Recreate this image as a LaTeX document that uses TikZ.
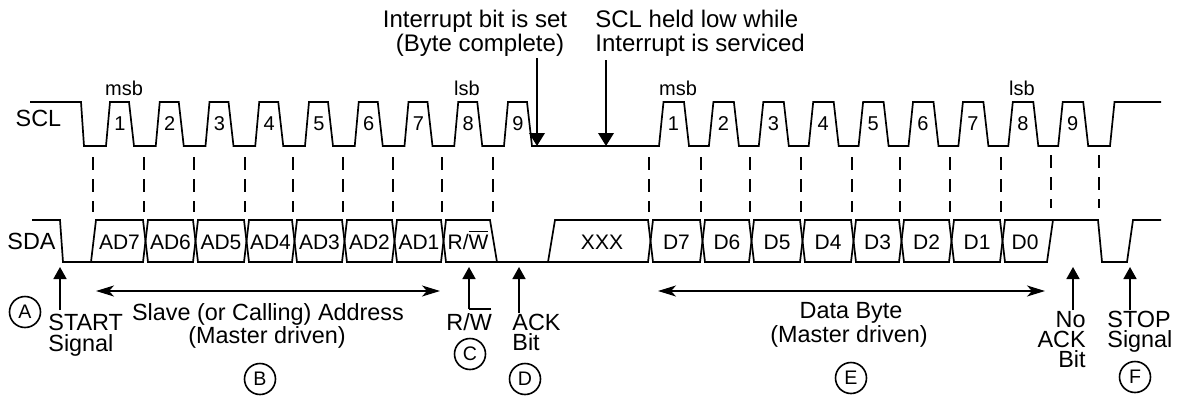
\documentclass[tikz,border=0pt]{standalone}
\usepackage{fontspec}
\setmainfont{Liberation Sans}
\usetikzlibrary{arrows.meta}
\begin{document}
\begin{tikzpicture}[x=0.5pt,y=-0.5pt,
  wave/.style={line width=0.85pt, line join=miter},
  guide/.style={line width=0.9pt, dash pattern=on 6.5pt off 4.5pt},
  sig/.style={inner sep=0pt, anchor=base, font=\fontsize{11.7}{12}\selectfont},
  num/.style={inner sep=0pt, anchor=base, font=\fontsize{10}{11}\selectfont},
  bus/.style={inner sep=0pt, anchor=base, font=\fontsize{10.5}{11}\selectfont},
  toptxt/.style={inner sep=0pt, font=\fontsize{12}{13}\selectfont},
  bot/.style={inner sep=0pt, font=\fontsize{11.7}{12}\selectfont},
  circ/.style={circle, draw, line width=0.8pt, minimum size=15.5pt, inner sep=0pt, font=\fontsize{9.8}{10}\selectfont},
  uparr/.style={line width=0.85pt, -{Triangle[length=6pt,width=6.5pt]}},
  downarr/.style={line width=0.85pt, -{Triangle[length=6.5pt,width=7.8pt]}},
  spanarr/.style={line width=0.85pt, {Stealth[length=9pt,width=5.5pt,inset=2.5pt]}-{Stealth[length=9pt,width=5.5pt,inset=2.5pt]}}
]
\useasboundingbox (0,0) rectangle (1177,396);

% ---------------- SCL ----------------
\draw[wave] (30,102) -- (81,102) -- (84,146)
  \foreach \k in {0,...,8} { -- ({106+\k*49.75},146) -- ({110+\k*49.75},102) -- ({129+\k*49.75},102) -- ({134+\k*49.75},146) }
  \foreach \k in {0,...,8} { -- ({659+\k*49.9},146) -- ({663.5+\k*49.9},102) -- ({684+\k*49.9},102) -- ({689+\k*49.9},146) }
  -- (1110,146) -- (1114.5,102) -- (1161,102);

\foreach \k in {1,...,9} {
  \node[num] (la\k) at ({106+(\k-1)*49.75+14},130) {\k};
  \node[num] (ra\k) at ({659+(\k-1)*49.9+14.5},130) {\k};
}
\node[num] (msbL) at (124,95) {msb};
\node[num] (lsbL) at (467,95) {lsb};
\node[num] (msbR) at (678,95) {msb};
\node[num] (lsbR) at (1022,95) {lsb};

\node[sig] (sclL) at (38.5,126.5) {SCL};
\node[sig] (sdaL) at (31.5,249) {SDA};

% ---------------- guides ----------------
\foreach \x in {92.7,144,194,245,293,343,393,442,493,649,701,750,801,852,900,950,1001}
  \draw[guide] (\x,157) -- (\x,212);
\foreach \x in {1051,1099}
  \draw[guide] (\x,155) -- (\x,208);

% ---------------- SDA ----------------
\def\h{2.5}
\draw[wave] (32,220) -- (60,220) -- (63,262)
  -- (145.5-\h,262) -- (145.5+\h,220) -- (195.5-\h,220) -- (195.5+\h,262)
  -- (246.5-\h,262) -- (246.5+\h,220) -- (294.5-\h,220) -- (294.5+\h,262)
  -- (344.5-\h,262) -- (344.5+\h,220) -- (394.5-\h,220) -- (394.5+\h,262)
  -- (443.5-\h,262) -- (443.5+\h,220) -- (490,220) -- (497,262)
  -- (548,262) -- (555,220)
  -- (650.5-\h,220) -- (650.5+\h,262) -- (702.5-\h,262) -- (702.5+\h,220)
  -- (751.5-\h,220) -- (751.5+\h,262) -- (802.5-\h,262) -- (802.5+\h,220)
  -- (853.5-\h,220) -- (853.5+\h,262) -- (901.5-\h,262) -- (901.5+\h,220)
  -- (951.5-\h,220) -- (951.5+\h,262) -- (1002.5-\h,262) -- (1002.5+\h,220)
  -- (1098,220) -- (1102,262) -- (1127,262) -- (1133,220) -- (1161,220);
\draw[wave] (91,262) -- (96,220)
  -- (145.5-\h,220) -- (145.5+\h,262) -- (195.5-\h,262) -- (195.5+\h,220)
  -- (246.5-\h,220) -- (246.5+\h,262) -- (294.5-\h,262) -- (294.5+\h,220)
  -- (344.5-\h,220) -- (344.5+\h,262) -- (394.5-\h,262) -- (394.5+\h,220)
  -- (443.5-\h,220) -- (443.5+\h,262) -- (548,262)
  -- (650.5-\h,262) -- (650.5+\h,220) -- (702.5-\h,220) -- (702.5+\h,262)
  -- (751.5-\h,262) -- (751.5+\h,220) -- (802.5-\h,220) -- (802.5+\h,262)
  -- (853.5-\h,262) -- (853.5+\h,220) -- (901.5-\h,220) -- (901.5+\h,262)
  -- (951.5-\h,262) -- (951.5+\h,220) -- (1002.5-\h,220) -- (1002.5+\h,262)
  -- (1047,262) -- (1053,220);

\node[bus] (ad7) at (119.5,249) {AD7};
\node[bus] (ad6) at (170.5,249) {AD6};
\node[bus] (ad5) at (221,249) {AD5};
\node[bus] (ad4) at (270.5,249) {AD4};
\node[bus] (ad3) at (319.5,249) {AD3};
\node[bus] (ad2) at (369.5,249) {AD2};
\node[bus] (ad1) at (419,249) {AD1};
\node[bus] (rw) at (468,249) {R/$\overline{\mbox{W}}$};
\node[bus] (xxx) at (602,249) {XXX};
\node[bus] (d7) at (676.5,249) {D7};
\node[bus] (d6) at (727,249) {D6};
\node[bus] (d5) at (777,249) {D5};
\node[bus] (d4) at (828,249) {D4};
\node[bus] (d3) at (877.5,249) {D3};
\node[bus] (d2) at (926.5,249) {D2};
\node[bus] (d1) at (977,249) {D1};
\node[bus] (d0) at (1025,249) {D0};

% ---------------- top annotations ----------------
\node[toptxt, anchor=base] (int1) at (475,27) {Interrupt bit is set};
\node[toptxt, anchor=base] (int2) at (480,51) {(Byte complete)};
\node[toptxt, anchor=base west] (hold1) at (595,27) {SCL held low while};
\node[toptxt, anchor=base west] (hold2) at (595,51) {Interrupt is serviced};
\coordinate (ia) at (537,58);  \coordinate (ib) at (537,146);
\coordinate (ha) at (606,60);  \coordinate (hb) at (606,146);
\draw[downarr] (ia) -- (ib);
\draw[downarr] (ha) -- (hb);

% ---------------- bottom annotations ----------------
\coordinate (sta) at (60,310);  \coordinate (stb) at (60,267);
\draw[uparr] (sta) -- (stb);
\node[bot, anchor=base west] (start1) at (48,330) {START};
\node[bot, anchor=base west] (start2) at (48,351) {Signal};
\node[circ] (cA) at (25,312) {A};

\coordinate (sl1) at (96,291); \coordinate (sl2) at (440,291);
\draw[spanarr] (sl1) -- (sl2);
\node[bot, anchor=base] (slave1) at (268,320) {Slave (or Calling) Address};
\node[bot, anchor=base] (slave2) at (267,343) {(Master driven)};
\node[circ] (cB) at (260,379) {B};

\node[bot, anchor=base west] (rwt) at (446,330) {R/W};
\coordinate (rwc) at (469,309); \coordinate (rwe) at (491,309); \coordinate (rwb) at (469,267);
\draw[line width=0.85pt] (rwe) -- (rwc);
\draw[uparr] (rwc) -- (rwb);
\node[circ] (cC) at (470,354) {C};

\coordinate (aca) at (519,313); \coordinate (acb) at (519,267);
\draw[uparr] (aca) -- (acb);
\node[bot, anchor=base west] (ack1) at (512,330) {ACK};
\node[bot, anchor=base west] (ack2) at (512,350) {Bit};
\node[circ] (cD) at (525,379) {D};

\coordinate (db1) at (658,291); \coordinate (db2) at (1045,291);
\draw[spanarr] (db1) -- (db2);
\node[bot, anchor=base] (data1) at (851,318) {Data Byte};
\node[bot, anchor=base] (data2) at (849,342) {(Master driven)};
\node[circ] (cE) at (851,378) {E};

\coordinate (naa) at (1073,310); \coordinate (nab) at (1073,267);
\draw[uparr] (naa) -- (nab);
\node[bot, anchor=base east] (nack1) at (1086,327) {No};
\node[bot, anchor=base east] (nack2) at (1086,347) {ACK};
\node[bot, anchor=base east] (nack3) at (1086,367) {Bit};

\coordinate (spa) at (1130,310); \coordinate (spb) at (1130,267);
\draw[uparr] (spa) -- (spb);
\node[bot, anchor=base west] (stop1) at (1107,327) {STOP};
\node[bot, anchor=base west] (stop2) at (1107,347) {Signal};
\node[circ] (cF) at (1135,377) {F};
\end{tikzpicture}
\end{document}
